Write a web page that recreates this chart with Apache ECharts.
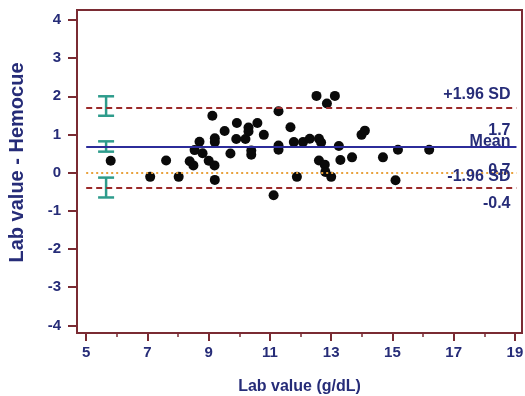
<!DOCTYPE html>
<html>
<head>
<meta charset="utf-8">
<script src="https://cdn.jsdelivr.net/npm/echarts@6/dist/echarts.min.js"></script>
<style>html,body{margin:0;padding:0;background:#fff}#container{width:525px;height:396px}</style>
</head>
<body>
<div id="container"></div>
<script>
// Bland-Altman: lab value vs difference (lab - Hemocue)
const labValue = [5.8, 7.09, 7.61, 8.02, 8.38, 8.5, 8.7, 8.54, 8.8, 9.0, 9.19, 9.12, 9.2, 9.2, 9.2,
  9.52, 9.71, 9.92, 9.9, 10.2, 10.3, 10.3, 10.39, 10.39, 10.59, 10.8, 11.28, 11.28, 11.28, 11.12,
  11.67, 11.78, 11.88, 12.08, 12.3, 12.52, 12.86, 13.12, 12.6, 12.67, 12.6, 12.79, 12.81, 13.0,
  13.25, 13.3, 13.68, 13.99, 14.1, 14.69, 15.18, 15.1, 16.2];
const difference = [0.31, -0.11, 0.32, -0.11, 0.3, 0.19, 0.81, 0.59, 0.51, 0.31, 0.19, 1.49, 0.9, 0.8, -0.19,
  1.09, 0.5, 1.3, 0.88, 0.88, 1.18, 1.08, 0.58, 0.47, 1.3, 0.99, 1.61, 0.71, 0.6, -0.59,
  1.19, 0.8, -0.11, 0.8, 0.89, 2.01, 1.81, 2.01, 0.89, 0.79, 0.32, 0.21, 0.02, -0.11,
  0.7, 0.33, 0.4, 0.99, 1.1, 0.4, 0.6, -0.2, 0.6];

const meanDiff = 0.67;
const upperLoA = 1.7;
const lowerLoA = -0.4;
const lineNames = ['+1.96 SD', 'Mean', '-1.96 SD'];
const lineLabels = ['1.7', '0.7', '-0.4'];

// 95% CI bars drawn at the left
const ciX = 5.65;
const ciLow = [1.49, 0.55, -0.65];
const ciHigh = [2.0, 0.82, -0.13];

const xTicks = [5, 7, 9, 11, 13, 15, 17, 19];
const xMinorTicks = [6, 8, 10, 12, 14, 16, 18];
const yTicks = [-4, -3, -2, -1, 0, 1, 2, 3, 4];

const navy = '#262c78';
const maroon = '#7a2b33';
const font = 'Liberation Sans, Arial, sans-serif';

const dom = document.getElementById('container');
const myChart = echarts.init(dom, null, { renderer: 'canvas' });

const points = labValue.map((x, i) => [x, difference[i]]);
const ciData = ciLow.map((lo, i) => [ciX, lo, ciHigh[i]]);

function refLine(y, color, type, name, value, nameDist, valueDist) {
  return [
    [{ coord: [5, y], lineStyle: { color: color, type: type, width: 2 },
       label: { show: true, position: 'insideEndTop', formatter: name, distance: nameDist } },
     { coord: [19.05, y] }],
    [{ coord: [5, y], lineStyle: { color: 'rgba(0,0,0,0)', width: 0 },
       label: { show: true, position: 'insideEndBottom', formatter: value, distance: valueDist } },
     { coord: [19.05, y] }],
  ];
}

const markLines = [].concat(
  refLine(upperLoA, '#9b2a2a', [6, 4], lineNames[0], lineLabels[0], [6, 5], [6, 15]),
  refLine(meanDiff, '#2c2c9a', 'solid', lineNames[1], lineLabels[1], [6, -3], [6, 16]),
  refLine(lowerLoA, '#9b2a2a', [6, 4], lineNames[2], lineLabels[2], [6, 3], [6, 8])
);
markLines.push([{ coord: [5, 0], lineStyle: { color: '#e8a13c', type: [2, 3], width: 2 }, label: { show: false } },
  { coord: [19.05, 0] }]);

option = {
  animation: false,
  grid: {
    left: 77, right: 3, top: 10, bottom: 63,
    outerBoundsMode: 'none',
    show: true, borderColor: maroon, borderWidth: 2, backgroundColor: '#fff',
  },
  xAxis: [{
    type: 'value', min: 4.7, max: 19.23,
    name: 'Lab value (g/dL)', nameLocation: 'middle', nameGap: 46,
    nameTextStyle: { color: navy, fontSize: 16, fontWeight: 'bold', fontFamily: font },
    axisLine: { show: false, onZero: false },
    axisTick: { show: true, length: 8, customValues: xTicks, lineStyle: { color: maroon, width: 2 } },
    axisLabel: { customValues: xTicks, margin: 12, color: navy, fontSize: 15, fontWeight: 'bold', fontFamily: font },
    splitLine: { show: false },
  }, {
    type: 'value', min: 4.7, max: 19.23, position: 'bottom',
    axisLine: { show: false, onZero: false },
    axisTick: { show: true, length: 4, customValues: xMinorTicks, lineStyle: { color: maroon, width: 1.5 } },
    axisLabel: { show: false },
    splitLine: { show: false },
  }],
  yAxis: {
    type: 'value', min: -4.2, max: 4.26,
    name: 'Lab value - Hemocue', nameLocation: 'middle', nameGap: 50,
    nameTextStyle: { color: navy, fontSize: 20, fontWeight: 'bold', fontFamily: font, padding: [0, 0, 0, 18] },
    axisLine: { show: false, onZero: false },
    axisTick: { show: true, length: 9, customValues: yTicks, lineStyle: { color: maroon, width: 2 } },
    axisLabel: { customValues: yTicks, margin: 16, color: navy, fontSize: 15, fontWeight: 'bold', fontFamily: font },
    splitLine: { show: false },
  },
  series: [
    {
      type: 'scatter',
      data: points,
      symbolSize: 10,
      itemStyle: { color: '#0a0a0a', opacity: 1 },
      markLine: {
        silent: true,
        symbol: 'none',
        label: { color: navy, fontSize: 16, fontWeight: 'bold', fontFamily: font },
        data: markLines,
      },
      z: 3,
    },
    {
      type: 'custom',
      data: ciData,
      renderItem: function (params, api) {
        const x = api.value(0);
        const top = api.coord([x, api.value(2)]);
        const bot = api.coord([x, api.value(1)]);
        const w = 8;
        const style = { stroke: '#2e9c8c', lineWidth: 2.5 };
        return {
          type: 'group',
          children: [
            { type: 'line', shape: { x1: top[0], y1: top[1], x2: bot[0], y2: bot[1] }, style: style },
            { type: 'line', shape: { x1: top[0] - w, y1: top[1], x2: top[0] + w, y2: top[1] }, style: style },
            { type: 'line', shape: { x1: bot[0] - w, y1: bot[1], x2: bot[0] + w, y2: bot[1] }, style: style },
          ],
        };
      },
      z: 4,
    },
  ],
};

if (option && typeof option === 'object') {
  myChart.setOption(option, true);
}
</script>
</body>
</html>
